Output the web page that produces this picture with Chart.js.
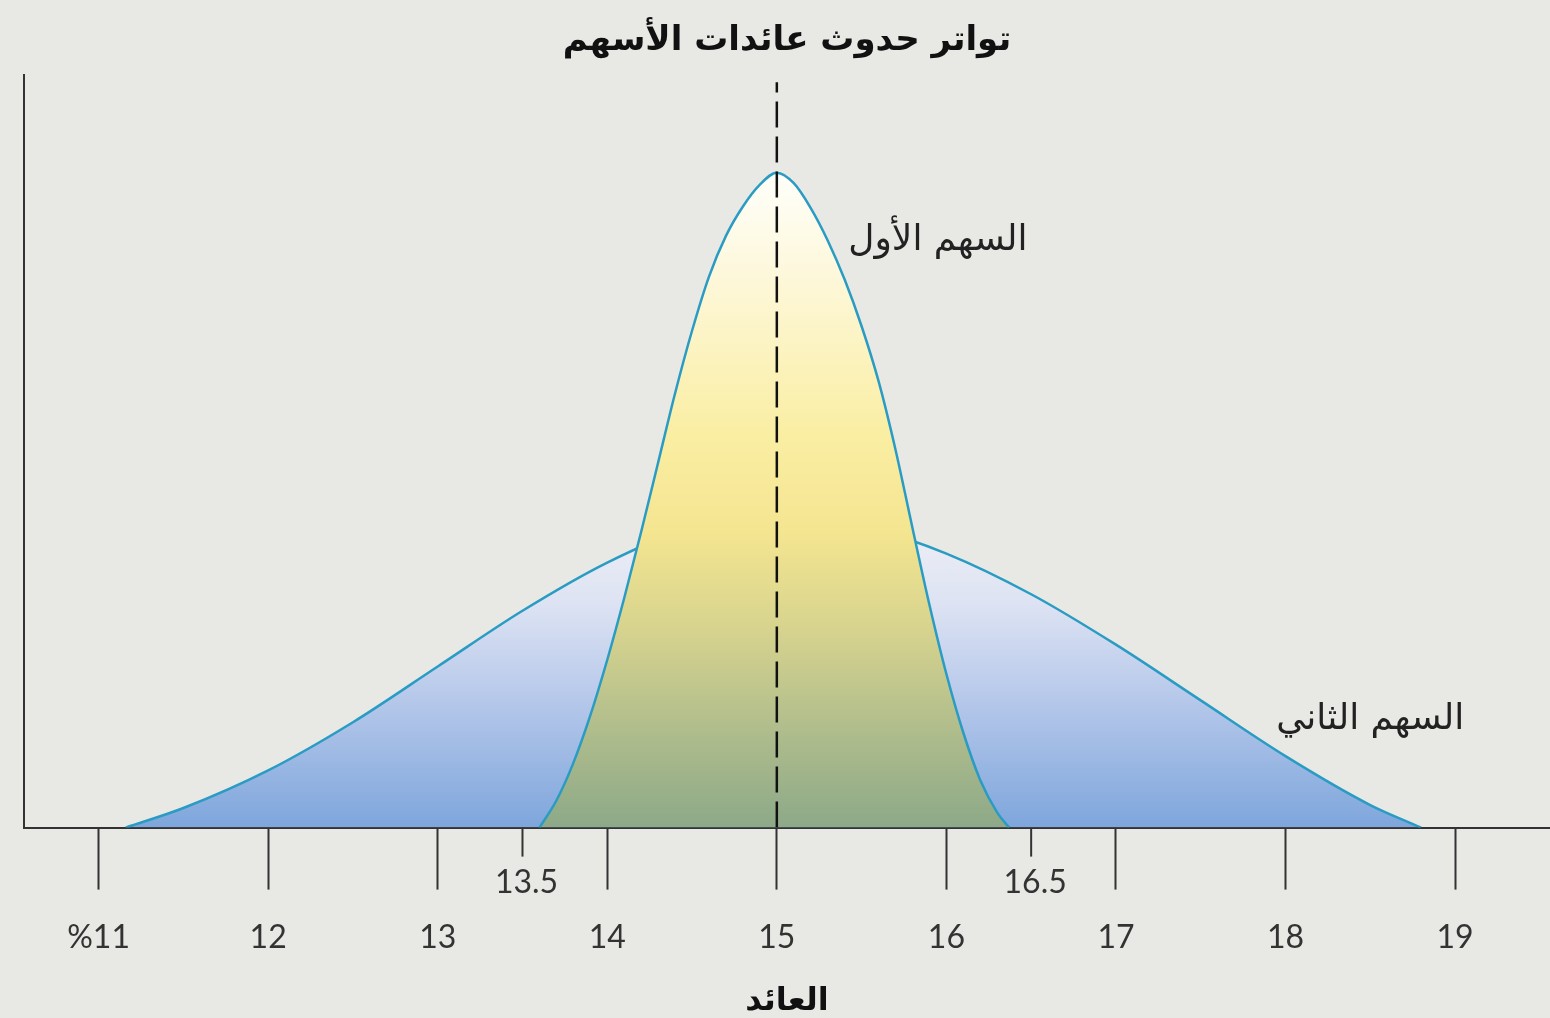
<!DOCTYPE html>
<html>
<head>
<meta charset="utf-8">
<script src="https://cdn.jsdelivr.net/npm/chart.js@4"></script>
<style>
  body { margin: 0; background: #e8e8e5; }
  canvas { display: block; }
</style>
</head>
<body>
<canvas id="myChart" width="1550" height="1018"></canvas>
<script>
// first stock: narrow curve
var returns1 = [13.60, 13.7, 13.8, 13.9, 14.0, 14.1, 14.2, 14.3, 14.4, 14.5, 14.6, 14.7, 14.8, 14.9, 15.0,
                15.1, 15.2, 15.3, 15.4, 15.5, 15.6, 15.7, 15.8, 15.9, 16.0, 16.1, 16.2, 16.3, 16.37];
var freq1 = [0, 3.6, 8.6, 14.9, 22.3, 30.5, 39.3, 48.5, 57.7, 66.0, 73.2, 78.6, 82.5, 85.4, 87,
             85.6, 82.3, 78.0, 72.8, 66.6, 59.3, 50.2, 39.8, 29.6, 20.4, 12.6, 6.3, 2.0, 0];
// second stock: wide curve
var returns2 = [11.16, 11.5, 12.0, 12.5, 13.0, 13.5, 14.0, 14.5, 15.0, 15.5, 16.0, 16.5, 17.0, 17.5, 18.0, 18.5, 18.8];
var freq2 = [0, 2.6, 7.6, 14.0, 21.4, 28.8, 35.2, 40.0, 42.6, 40.2, 36.4, 31.0, 24.3, 16.9, 9.5, 3.0, 0];
// expected return line
var meanX = [15, 15];
var meanY = [0, 99];
var majorTicks = [11, 12, 13, 14, 15, 16, 17, 18, 19];
var rangeTicks = [13.5, 16.5];
var seriesNames = ['السهم الأول', 'السهم الثاني'];
var labelPos = [[15.95, 78], [18.5, 14.4]];

function pts(xs, ys) {
  return xs.map(function (x, i) { return { x: x, y: ys[i] }; });
}

function vGradient(context, peak, stops) {
  var chart = context.chart;
  if (!chart.chartArea) return null;
  var y = chart.scales.y;
  var g = chart.ctx.createLinearGradient(0, y.getPixelForValue(peak), 0, y.getPixelForValue(0));
  stops.forEach(function (s) { g.addColorStop(s[0], s[1]); });
  return g;
}

var extras = {
  id: 'extras',
  afterDraw: function (chart) {
    var ctx = chart.ctx;
    var x = chart.scales.x, y = chart.scales.y;
    var base = y.getPixelForValue(0);
    ctx.save();
    // short ticks for the range of the first stock
    ctx.strokeStyle = '#333';
    ctx.lineWidth = 2;
    ctx.fillStyle = '#333';
    ctx.font = '32px Lato';
    ctx.textAlign = 'center';
    ctx.textBaseline = 'middle';
    rangeTicks.forEach(function (v) {
      var px = x.getPixelForValue(v);
      ctx.beginPath();
      ctx.moveTo(px, base);
      ctx.lineTo(px, base + 29);
      ctx.stroke();
      ctx.fillText(String(v), px + 4, base + 55);
    });
    // curve names
    ctx.fillStyle = '#222';
    ctx.font = '36px "DejaVu Sans"';
    seriesNames.forEach(function (name, i) {
      ctx.fillText(name, x.getPixelForValue(labelPos[i][0]), y.getPixelForValue(labelPos[i][1]));
    });
    ctx.restore();
  }
};

var ctx = document.getElementById('myChart').getContext('2d');
var myChart = new Chart(ctx, {
  type: 'line',
  data: {
    datasets: [{
      label: 'mean',
      data: pts(meanX, meanY),
      borderColor: '#111',
      borderWidth: 2.5,
      borderDash: [26, 9],
      pointRadius: 0,
      fill: false,
      order: 0
    }, {
      label: seriesNames[0],
      data: pts(returns1, freq1),
      borderColor: '#2a9cc4',
      borderWidth: 2.5,
      pointRadius: 0,
      cubicInterpolationMode: 'monotone',
      fill: 'origin',
      backgroundColor: function (c) {
        return vGradient(c, 87, [
          [0, '#fffffa'], [0.15, '#fdf8dc'], [0.4, '#faeea3'], [0.55, '#f4e590'],
          [0.7, '#d6d38e'], [0.85, '#b0bd8c'], [1, '#8da988']
        ]);
      },
      order: 1
    }, {
      label: seriesNames[1],
      data: pts(returns2, freq2),
      borderColor: '#2a9cc4',
      borderWidth: 2.5,
      pointRadius: 0,
      cubicInterpolationMode: 'monotone',
      fill: 'origin',
      backgroundColor: function (c) {
        return vGradient(c, 42.6, [
          [0, '#f2f2f6'], [0.3, '#dde3f3'], [0.6, '#b6c8ea'], [1, '#7ea6dc']
        ]);
      },
      order: 2
    }]
  },
  options: {
    responsive: false,
    animation: false,
    layout: { padding: { left: 24, right: 0, top: 0, bottom: 0 } },
    plugins: {
      legend: { display: false },
      tooltip: { enabled: false },
      title: {
        display: true,
        text: 'تواتر حدوث عائدات الأسهم',
        color: '#111',
        font: { size: 34, weight: 'bold', family: '"DejaVu Sans"' },
        padding: { top: 21, bottom: 13 }
      }
    },
    scales: {
      x: {
        type: 'linear',
        min: 10.56,
        max: 19.56,
        afterBuildTicks: function (axis) {
          axis.ticks = majorTicks.map(function (v) { return { value: v }; });
        },
        grid: {
          drawOnChartArea: false,
          drawTicks: true,
          tickLength: 62,
          tickWidth: 2,
          tickColor: '#333'
        },
        border: { display: true, color: '#333', width: 2 },
        ticks: {
          color: '#333',
          padding: 29,
          maxRotation: 0,
          autoSkip: false,
          font: { size: 32, family: 'Lato' },
          callback: function (v) { return v === 11 ? '%11' : String(v); }
        },
        title: {
          display: true,
          text: 'العائد',
          color: '#111',
          font: { size: 32, weight: 'bold', family: '"DejaVu Sans"', lineHeight: 1.0 },
          padding: { top: 0, bottom: 0 }
        }
      },
      y: {
        min: 0,
        max: 100,
        grid: { display: false, drawTicks: false },
        border: { display: true, color: '#333', width: 2 },
        ticks: { display: false }
      }
    }
  },
  plugins: [extras]
});
</script>
</body>
</html>
